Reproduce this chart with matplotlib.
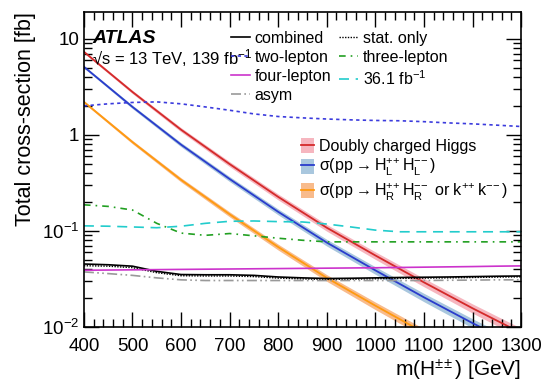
import numpy as np
import matplotlib.pyplot as plt
from matplotlib.patches import Patch
from matplotlib.lines import Line2D
from matplotlib.ticker import MultipleLocator, FixedLocator, FixedFormatter, LogLocator, NullFormatter

plt.rcParams['font.family'] = ['Liberation Sans', 'DejaVu Sans']
plt.rcParams['mathtext.default'] = 'regular'

# Theory cross-sections [fb]
mass_th = [400, 500, 600, 700, 800, 900, 1000, 1100, 1200, 1300]
xs_right = [2.2, 0.84, 0.34, 0.149, 0.068, 0.0325, 0.0167, 0.00875, 0.0047, 0.0026]
xs_left = [5.1, 1.95, 0.79, 0.347, 0.158, 0.0757, 0.0389, 0.0204, 0.0110, 0.0061]
xs_total = [7.3, 2.79, 1.13, 0.496, 0.226, 0.108, 0.0556, 0.0292, 0.0157, 0.0087]
rel_unc = [0.03, 0.04, 0.05, 0.06, 0.07, 0.08, 0.09, 0.10, 0.11, 0.12]

# Limits [fb]
mass_lim = [400, 450, 500, 550, 600, 650, 700, 750, 800, 850, 900, 950, 1000, 1050, 1100, 1150, 1200, 1250, 1300]
combined = [0.0453, 0.0445, 0.043, 0.038, 0.0352, 0.035, 0.035, 0.0345, 0.0332, 0.0325, 0.032, 0.0322, 0.0325, 0.0328, 0.033, 0.0332, 0.0335, 0.0338, 0.034]
stat_only = [0.0435, 0.043, 0.0415, 0.0368, 0.0342, 0.034, 0.034, 0.0335, 0.0323, 0.0317, 0.0313, 0.0315, 0.0318, 0.0321, 0.0323, 0.0325, 0.0328, 0.0331, 0.0333]
two_lepton = [2.0, 2.1, 2.17, 2.2, 2.1, 1.95, 1.8, 1.65, 1.55, 1.5, 1.46, 1.43, 1.41, 1.4, 1.37, 1.33, 1.3, 1.26, 1.22]
three_lepton = [0.187, 0.18, 0.165, 0.12, 0.095, 0.09, 0.094, 0.089, 0.084, 0.08, 0.077, 0.077, 0.077, 0.077, 0.077, 0.077, 0.077, 0.077, 0.077]
four_lepton = [0.039, 0.0392, 0.0394, 0.0396, 0.0398, 0.04, 0.0402, 0.0404, 0.0406, 0.0408, 0.041, 0.0412, 0.0414, 0.0417, 0.042, 0.0423, 0.0426, 0.043, 0.0433]
lumi_36 = [0.113, 0.112, 0.11, 0.108, 0.112, 0.12, 0.126, 0.127, 0.125, 0.124, 0.118, 0.11, 0.102, 0.098, 0.098, 0.098, 0.098, 0.098, 0.098]
asym = [0.0375, 0.036, 0.0345, 0.0325, 0.031, 0.0305, 0.0305, 0.0305, 0.0305, 0.0305, 0.0305, 0.0305, 0.0305, 0.0305, 0.0305, 0.0307, 0.0308, 0.031, 0.031]

fig = plt.figure(figsize=(5.52, 3.83), dpi=100)
ax = fig.add_axes([0.152, 0.146, 0.792, 0.823])

m = np.array(mass_th)
unc = np.array(rel_unc)
theory = [
    (xs_total, '#d42a2a', '#f6b6bf', 'Doubly charged Higgs'),
    (xs_left, '#2a3ccc', '#a9c7de', r'$\sigma(pp \rightarrow H_L^{+\!+}H_L^{-\!-})$'),
    (xs_right, '#ff9a10', '#f8bb8c', r'$\sigma(pp \rightarrow H_R^{+\!+}H_R^{-\!-}$ or $k^{+\!+}k^{-\!-})$'),
]
th_handles = []
for xs, lc, fc, lab in theory:
    xs = np.array(xs)
    ax.fill_between(m, xs * (1 - unc), xs * (1 + unc), color=fc, lw=0)
    ax.plot(m, xs, color=lc, lw=1.3)
    th_handles.append(((Patch(facecolor=fc, edgecolor='none'), Line2D([], [], color=lc, lw=1.3)), lab))

l_comb, = ax.plot(mass_lim, combined, color='black', lw=1.2)
l_stat, = ax.plot(mass_lim, stat_only, color='black', lw=1.0, ls=(0, (1, 1)))
l_two, = ax.plot(mass_lim, two_lepton, color='#3b3bdd', lw=1.2, ls=(0, (2, 2)))
l_three, = ax.plot(mass_lim, three_lepton, color='#22a022', lw=1.2, ls=(0, (4, 3, 1, 3)))
l_four, = ax.plot(mass_lim, four_lepton, color='#cc33cc', lw=1.2)
l_36, = ax.plot(mass_lim, lumi_36, color='#22cccc', lw=1.2, ls=(0, (6, 4)))
l_asym, = ax.plot(mass_lim, asym, color='#999999', lw=1.2, ls=(0, (6, 2, 1, 2, 1, 2)))

ax.set_yscale('log')
ax.set_xlim(400, 1300)
ax.set_ylim(0.01, 19)
ax.xaxis.set_major_locator(MultipleLocator(100))
ax.xaxis.set_minor_locator(MultipleLocator(20))
ax.yaxis.set_major_locator(FixedLocator([0.01, 0.1, 1, 10]))
ax.yaxis.set_major_formatter(FixedFormatter([r'$10^{-2}$', r'$10^{-1}$', '1', '10']))
ax.yaxis.set_minor_locator(LogLocator(base=10, subs=np.arange(2, 10)))
ax.yaxis.set_minor_formatter(NullFormatter())
ax.tick_params(which='both', direction='in', top=True, right=True, labelsize=13.5, width=1.0)
ax.tick_params(which='major', length=11)
ax.tick_params(which='minor', length=5.5)
ax.tick_params(axis='x', pad=8)
for s in ax.spines.values():
    s.set_linewidth(1.2)

ax.set_ylabel('Total cross-section [fb]', fontsize=15.5, loc='top')
ax.set_xlabel(r'm($H^{\pm\!\pm}$) [GeV]', fontsize=15, loc='right', labelpad=2)

ax.text(0.02, 0.917, 'ATLAS', transform=ax.transAxes, fontsize=14, fontweight='bold', style='italic', va='center')
ax.text(0.018, 0.855, '\u221as = 13 TeV, 139 fb$^{-1}$', transform=ax.transAxes, fontsize=12, va='center')

leg1 = ax.legend([l_comb, l_two, l_four, l_asym, l_stat, l_three, l_36],
                 ['combined', 'two-lepton', 'four-lepton', 'asym', 'stat. only', 'three-lepton', r'36.1 fb$^{-1}$'],
                 ncol=2, loc='upper left', bbox_to_anchor=(0.318, 0.965), frameon=False, fontsize=11.5,
                 handlelength=1.2, handletextpad=0.3, columnspacing=0.45, labelspacing=0.25, borderpad=0)
ax.add_artist(leg1)
ax.legend([h for h, _ in th_handles], [t for _, t in th_handles], loc='upper left',
          bbox_to_anchor=(0.479, 0.625), frameon=False, fontsize=11.5,
          handlelength=0.8, handleheight=1.1, handletextpad=0.3, labelspacing=0.2, borderpad=0)

fig.savefig('out.png', dpi=100)
